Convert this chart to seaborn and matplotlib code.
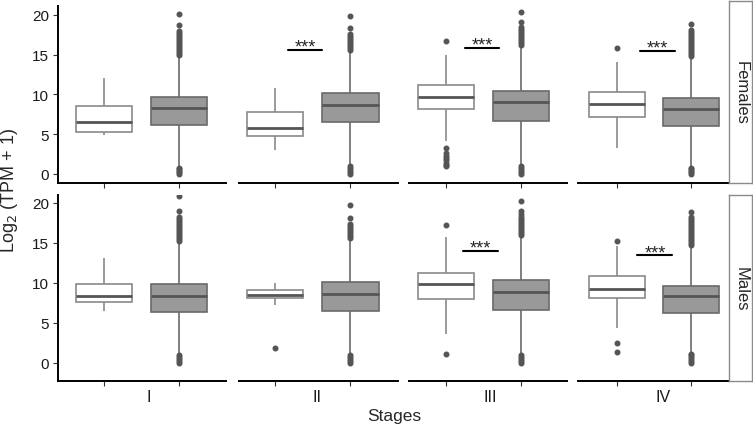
import numpy as np
import pandas as pd
import matplotlib.pyplot as plt
import seaborn as sb

sb.set_style("white")
plt.rcParams['font.family'] = ['Liberation Sans', 'DejaVu Sans']

stages = ["I", "II", "III", "IV"]
sexes = ["Females", "Males"]

# box summaries: [lower whisker, Q1, median, Q3, upper whisker]
white_f = [[4.85, 5.24, 6.58, 8.51, 12.08],
           [3.02, 4.82, 5.79, 7.84, 10.78],
           [4.19, 8.16, 9.70, 11.20, 14.95],
           [3.23, 7.13, 8.80, 10.35, 14.10]]
white_m = [[6.55, 7.60, 8.35, 9.86, 13.10],
           [7.26, 8.10, 8.48, 9.18, 9.98],
           [3.60, 8.00, 9.85, 11.27, 15.80],
           [4.35, 8.14, 9.30, 10.93, 14.60]]
gray_f = [[0.95, 6.16, 8.30, 9.69, 14.90],
          [1.20, 6.54, 8.68, 10.15, 15.40],
          [1.10, 6.70, 9.00, 10.47, 15.90],
          [0.85, 6.03, 8.17, 9.52, 14.60]]
gray_m = [[1.10, 6.35, 8.43, 9.90, 15.10],
          [1.20, 6.55, 8.68, 10.14, 15.40],
          [1.10, 6.64, 8.90, 10.36, 15.90],
          [1.30, 6.30, 8.35, 9.68, 14.70]]

# outliers
white_f_out = [[], [], [16.75, 3.2, 2.6, 2.3, 2.0, 1.7, 1.4, 1.1, 0.95], [15.8]]
white_m_out = [[], [1.84], [17.2, 1.13], [15.2, 2.47, 1.34]]
gray_f_out = [
    [0.0, 0.2, 0.4, 0.6, 0.8,
     15.0, 15.25, 15.5, 15.75, 16.0, 16.25, 16.5, 16.75, 17.0, 17.25, 17.5, 17.75, 17.9, 18.7, 20.1],
    [0.0, 0.25, 0.5, 0.75, 1.0,
     15.6, 15.85, 16.1, 16.35, 16.6, 16.85, 17.1, 17.35, 17.6, 18.3, 19.8],
    [0.0, 0.25, 0.5, 0.75, 1.0,
     16.2, 16.45, 16.7, 16.95, 17.2, 17.45, 17.7, 17.95, 18.2, 18.4, 19.05, 20.4],
    [0.0, 0.2, 0.4, 0.6, 0.75,
     14.8, 15.05, 15.3, 15.55, 15.8, 16.05, 16.3, 16.55, 16.8, 17.05, 17.3, 17.55, 17.8, 18.1, 18.85],
]
gray_m_out = [
    [0.0, 0.25, 0.5, 0.75, 0.95,
     15.3, 15.55, 15.8, 16.05, 16.3, 16.55, 16.8, 17.05, 17.3, 17.55, 17.8, 18.05, 18.25, 19.0, 20.9],
    [0.0, 0.25, 0.5, 0.75, 1.0,
     15.6, 15.85, 16.1, 16.35, 16.6, 16.85, 17.1, 17.4, 18.15, 19.8],
    [0.0, 0.25, 0.5, 0.75, 1.0,
     16.0, 16.25, 16.5, 16.75, 17.0, 17.25, 17.5, 17.75, 18.0, 18.25, 18.65, 19.0, 20.3],
    [0.0, 0.25, 0.5, 0.75, 1.0, 1.15,
     14.8, 15.05, 15.3, 15.55, 15.8, 16.05, 16.3, 16.55, 16.8, 17.05, 17.3, 17.55, 17.8, 18.05, 18.25, 18.9],
]

# significance bars: (x start, x end, height), None = no bar
sig_f = [None, (0.17, 0.63, 15.57), (0.26, 0.71, 15.8), (0.32, 0.785, 15.5)]
sig_m = [None, None, (0.235, 0.70, 14.06), (0.28, 0.75, 13.44)]

white = [white_f, white_m]
gray = [gray_f, gray_m]
white_out = [white_f_out, white_m_out]
gray_out = [gray_f_out, gray_m_out]
sigs = [sig_f, sig_m]


def expand(summary, outliers):
    # rebuild a sample whose box stats equal the summary
    lo, q1, med, q3, hi = summary
    return list(outliers) + [lo, hi] + [q1] * 200 + [med] * 200 + [q3] * 200


W, H = 753, 435
fig = plt.figure(figsize=(W / 100, H / 100), dpi=100)

col_px = [(58.3, 225.7), (239.3, 397.7), (409, 566.7), (578.3, 730)]
row_px = [(6.7, 184.3), (196, 382)]
strip_px = [(1.7, 184.3), (196, 382)]
xlims = [(-0.613, 1.621), (-0.476, 1.63), (-0.489, 1.613), (-0.517, 1.526)]
ylims = [(-1.17, 21.13), (-2.25, 21.0)]
stage_x_px = [149, 316.7, 490, 663]

for r, sex in enumerate(sexes):
    for c, stage in enumerate(stages):
        x0, x1 = col_px[c]
        y0, y1 = row_px[r]
        ax = fig.add_axes([x0 / W, 1 - y1 / H, (x1 - x0) / W, (y1 - y0) / H])
        w = expand(white[r][c], white_out[r][c])
        g = expand(gray[r][c], gray_out[r][c])
        df = pd.DataFrame({"grp": ["white"] * len(w) + ["gray"] * len(g), "val": w + g})
        for grp, fill, edge in [("white", "white", "#8a8a8a"), ("gray", "#999999", "#6a6a6a")]:
            sb.boxplot(data=df[df.grp == grp], x="grp", y="val", order=["white", "gray"],
                       color=fill, linecolor=edge, saturation=1, width=0.75, linewidth=1.2,
                       fliersize=3.3, showcaps=False,
                       flierprops=dict(marker="o", markerfacecolor="#555555",
                                       markeredgecolor="#555555"),
                       medianprops=dict(color="#555555", linewidth=2), ax=ax)
        ax.set_xlim(xlims[c])
        ax.set_ylim(ylims[r])
        ax.set_xticks([0, 1])
        ax.set_xticklabels([])
        ax.set_xlabel("")
        ax.set_ylabel("")
        ax.patch.set_alpha(0)
        for s in ["top", "right"]:
            ax.spines[s].set_visible(False)
        ax.spines["bottom"].set_color("black")
        ax.spines["bottom"].set_linewidth(1.4)
        if c == 0:
            ax.spines["left"].set_color("black")
            ax.spines["left"].set_linewidth(1.4)
            ax.set_yticks([0, 5, 10, 15, 20])
            ax.tick_params(axis="y", left=True, labelsize=11, length=3.5, width=0.8,
                           color="#333333", labelcolor="#1a1a1a", pad=3)
        else:
            ax.spines["left"].set_visible(False)
            ax.tick_params(axis="y", left=False, labelleft=False)
        ax.tick_params(axis="x", bottom=True, length=3.5, width=0.8, color="#333333")

        sig = sigs[r][c]
        if sig is not None:
            ax.plot([sig[0], sig[1]], [sig[2], sig[2]], color="black", lw=1.5)
            ax.text((sig[0] + sig[1]) / 2, sig[2] - 0.2, "***", ha="center", va="baseline",
                    fontsize=13)

        if r == 1:
            fig.text(stage_x_px[c] / W, 1 - 398 / H, stage, ha="center", va="center",
                     fontsize=11.5, color="#1a1a1a")

    # facet strip
    s0, s1 = strip_px[r]
    sax = fig.add_axes([729.3 / W, 1 - s1 / H, 23 / W, (s1 - s0) / H])
    sax.set_xticks([])
    sax.set_yticks([])
    for sp in sax.spines.values():
        sp.set_color("#8a8a8a")
        sp.set_linewidth(1)
    sax.text(0.5, 0.5, sex, rotation=270, ha="center", va="center", fontsize=12,
             transform=sax.transAxes)

fig.text(10 / W, 1 - 190 / H, r"Log$_2$ (TPM + 1)", rotation=90, ha="center", va="center",
         fontsize=13)
fig.text(394 / W, 1 - 417 / H, "Stages", ha="center", va="center", fontsize=12.5)

fig.savefig("out.png", dpi=100)
